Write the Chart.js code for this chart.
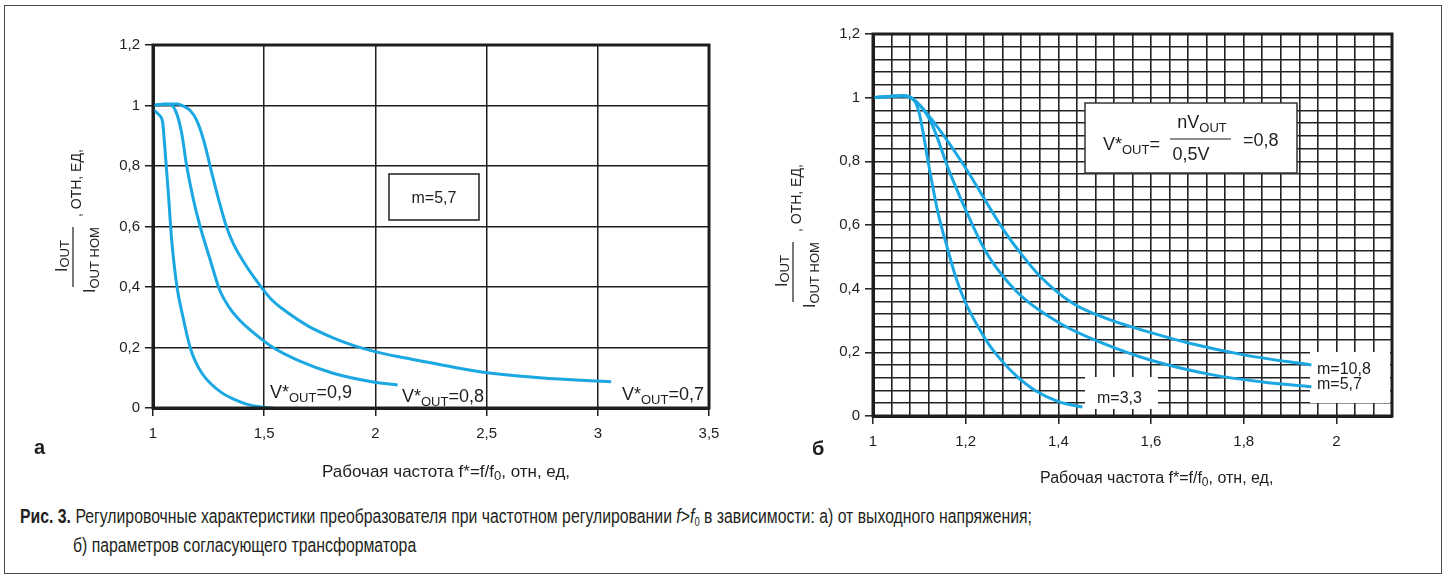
<!DOCTYPE html>
<html>
<head>
<meta charset="utf-8">
<script src="https://cdn.jsdelivr.net/npm/chart.js@4.4.1/dist/chart.umd.min.js"></script>
<style>
  body { margin: 0; background: #fff; width: 1446px; height: 578px; overflow: hidden; position: relative; }
  #frame { position: absolute; left: 4px; top: 5px; width: 1438px; height: 569px; border: 1.5px solid #4a4a4a; box-sizing: border-box; }
  #left { position: absolute; left: 0; top: 0; }
  #right { position: absolute; left: 760px; top: 0; }
  .cap { position: absolute; white-space: nowrap; font-family: "Liberation Sans Narrow", "Liberation Sans", sans-serif; font-size: 20px; color: #231f20; transform-origin: 0 0; }
  .cap sub { font-size: 12px; vertical-align: -3px; }
</style>
</head>
<body>
<div id="frame"></div>
<canvas id="left" width="760" height="490"></canvas>
<canvas id="right" width="686" height="490"></canvas>
<div class="cap" id="cap1" style="left:20px;top:505px"><b>Рис. 3.</b> Регулировочные характеристики преобразователя при частотном регулировании <i>f</i>&gt;<i>f</i><sub>0</sub> в зависимости: а) от выходного напряжения;</div>
<div class="cap" id="cap2" style="left:73px;top:534px">б) параметров согласующего трансформатора</div>

<script>
const BLUE = '#1aa7e2';
const INK = '#1e1e1e';

// рис. а: ток от частоты при разных V*OUT (m=5,7)
const xTicksA = [1, 1.5, 2, 2.5, 3, 3.5];
const yTicksA = [0, 0.2, 0.4, 0.6, 0.8, 1, 1.2];
const fV09 = [1.0, 1.028, 1.043, 1.054, 1.069, 1.084, 1.108, 1.135, 1.167, 1.19, 1.22, 1.26, 1.31, 1.36, 1.42, 1.48, 1.54];
const iV09 = [0.987, 0.968, 0.946, 0.853, 0.71, 0.555, 0.40, 0.30, 0.20, 0.155, 0.115, 0.08, 0.05, 0.03, 0.013, 0.004, 0.0];
const fV08 = [1.0, 1.04, 1.077, 1.106, 1.129, 1.152, 1.182, 1.212, 1.257, 1.30, 1.345, 1.39, 1.45, 1.54, 1.66, 1.81, 1.99, 2.10];
const iV08 = [1.0, 1.004, 1.003, 0.974, 0.908, 0.798, 0.688, 0.60, 0.49, 0.39, 0.33, 0.29, 0.25, 0.20, 0.155, 0.115, 0.086, 0.076];
const fV07 = [1.0, 1.06, 1.11, 1.137, 1.165, 1.196, 1.23, 1.26, 1.295, 1.33, 1.36, 1.41, 1.466, 1.527, 1.60, 1.70, 1.81, 1.90, 1.99, 2.10, 2.26, 2.47, 2.74, 3.0, 3.06];
const iV07 = [1.0, 1.005, 1.005, 0.998, 0.985, 0.952, 0.88, 0.79, 0.69, 0.60, 0.545, 0.48, 0.42, 0.363, 0.318, 0.27, 0.232, 0.207, 0.188, 0.17, 0.148, 0.12, 0.10, 0.089, 0.087];

// рис. б: ток от частоты при разных m (V*OUT=0,8)
const xTicksB = [1, 1.2, 1.4, 1.6, 1.8, 2];
const yTicksB = [0, 0.2, 0.4, 0.6, 0.8, 1, 1.2];
const fM33 = [1.0, 1.03, 1.065, 1.087, 1.10, 1.12, 1.14, 1.16, 1.18, 1.20, 1.225, 1.25, 1.28, 1.31, 1.35, 1.40, 1.452];
const iM33 = [1.0, 1.003, 1.006, 0.995, 0.95, 0.79, 0.64, 0.53, 0.43, 0.355, 0.285, 0.225, 0.17, 0.125, 0.08, 0.045, 0.028];
const fM57 = [1.0, 1.03, 1.065, 1.087, 1.123, 1.167, 1.21, 1.242, 1.28, 1.325, 1.405, 1.49, 1.60, 1.73, 1.84, 1.946];
const iM57 = [1.0, 1.003, 1.006, 0.995, 0.93, 0.76, 0.615, 0.52, 0.44, 0.37, 0.29, 0.232, 0.175, 0.13, 0.107, 0.092];
const fM108 = [1.0, 1.03, 1.065, 1.087, 1.138, 1.195, 1.282, 1.314, 1.36, 1.43, 1.506, 1.60, 1.69, 1.80, 1.946];
const iM108 = [1.0, 1.003, 1.006, 0.995, 0.91, 0.79, 0.584, 0.52, 0.44, 0.355, 0.305, 0.262, 0.226, 0.192, 0.16];

Chart.defaults.font.family = "'Liberation Sans', Arial, sans-serif";
Chart.defaults.color = INK;

const comma = v => String(+v.toFixed(2)).replace('.', ',');
const near = (list, v) => list.some(t => Math.abs(t - v) < 1e-6);

function pts(xs, ys) {
  return xs.map((x, i) => ({ x: x, y: ys[i] }));
}

function line(xs, ys) {
  return {
    data: pts(xs, ys),
    borderColor: BLUE,
    borderWidth: 3,
    pointRadius: 0,
    cubicInterpolationMode: 'monotone',
    fill: false
  };
}

// text with subscripts: parts = [text, size, dy, weight]
function rich(ctx, x, y, parts, align) {
  const fnt = p => (p[3] || 'normal') + ' ' + p[1] + "px 'Liberation Sans', Arial, sans-serif";
  let w = 0;
  parts.forEach(p => { ctx.font = fnt(p); w += ctx.measureText(p[0]).width; });
  let cx = align === 'center' ? x - w / 2 : x;
  parts.forEach(p => {
    ctx.font = fnt(p);
    ctx.fillText(p[0], cx, y + (p[2] || 0));
    cx += ctx.measureText(p[0]).width;
  });
}

function vout(val) {
  return [['V*', 18], ['OUT', 13, 4], ['=' + val, 18]];
}

function yTitle(ctx, lx, by) {
  ctx.save();
  ctx.translate(lx, by);
  ctx.rotate(-Math.PI / 2);
  ctx.fillStyle = INK;
  rich(ctx, 15, -6, [['I', 16], ['OUT', 13, 2]]);
  rich(ctx, -6, 22, [['I', 16], ['OUT НОМ', 13, 4]]);
  ctx.strokeStyle = INK;
  ctx.lineWidth = 1.2;
  ctx.beginPath();
  ctx.moveTo(0, 0);
  ctx.lineTo(60, 0);
  ctx.stroke();
  rich(ctx, 70, 8, [[', ОТН, ЕД,', 14]]);
  ctx.restore();
}

function xTitle(ctx, x, y, size) {
  rich(ctx, x, y, [['Рабочая частота f*=f/f', size], ['0', size - 4, 3], [', отн, ед,', size]]);
}

function frame(ctx, a) {
  ctx.save();
  ctx.strokeStyle = INK;
  ctx.lineWidth = 3;
  ctx.strokeRect(a.left, a.top, a.right - a.left, a.bottom - a.top);
  ctx.restore();
}

function box(ctx, x, y, w, h, stroke) {
  ctx.save();
  ctx.fillStyle = '#fff';
  ctx.fillRect(x, y, w, h);
  if (stroke) {
    ctx.strokeStyle = stroke;
    ctx.lineWidth = 1.5;
    ctx.strokeRect(x, y, w, h);
  }
  ctx.restore();
}

function axes(xMin, xMax, yMin, yMax, xMajor, yMajor, step) {
  const build = (lo, hi, major) => scale => {
    if (!step) {
      scale.ticks = major.map(v => ({ value: v }));
      return;
    }
    const n = Math.round((hi - lo) / step);
    const t = [];
    for (let k = 0; k <= n; k++) t.push({ value: +(lo + k * step).toFixed(4) });
    scale.ticks = t;
  };
  const grid = major => ({
    color: step ? '#222' : INK,
    lineWidth: step ? 1.6 : 1.5,
    tickLength: 8,
    tickWidth: 1.5,
    tickColor: c => (c.tick && near(major, c.tick.value)) ? INK : 'rgba(0,0,0,0)'
  });
  return {
    x: {
      type: 'linear', min: xMin, max: xMax,
      afterBuildTicks: build(xMin, xMax, xMajor),
      afterFit: s => { s.height = 40; },
      grid: grid(xMajor),
      border: { display: true, color: INK, width: 3 },
      ticks: { autoSkip: false, maxRotation: 0, padding: 9, font: { size: 15 },
               callback: v => near(xMajor, v) ? comma(v) : '' }
    },
    y: {
      type: 'linear', min: yMin, max: yMax,
      afterBuildTicks: build(yMin, yMax, yMajor),
      afterFit: s => { s.width = 60; },
      grid: grid(yMajor),
      border: { display: true, color: INK, width: 3 },
      ticks: { autoSkip: false, padding: 5, font: { size: 15 },
               callback: v => near(yMajor, v) ? comma(v) : '' }
    }
  };
}

const baseOpts = {
  responsive: false,
  animation: false,
  events: [],
  plugins: { legend: { display: false }, tooltip: { enabled: false } }
};

const decorA = {
  id: 'decorA',
  beforeDatasetsDraw(chart) {
    box(chart.ctx, 389, 174, 90, 46, INK);
  },
  afterDraw(chart) {
    const ctx = chart.ctx;
    frame(ctx, chart.chartArea);
    ctx.save();
    ctx.fillStyle = INK;
    ctx.textBaseline = 'alphabetic';
    ctx.font = "16px 'Liberation Sans', Arial, sans-serif";
    ctx.textAlign = 'center';
    ctx.fillText('m=5,7', 434, 203);
    ctx.textAlign = 'left';
    rich(ctx, 270, 398, vout('0,9'));
    rich(ctx, 402, 402, vout('0,8'));
    rich(ctx, 622, 400, vout('0,7'));
    xTitle(ctx, 322, 477, 17);
    rich(ctx, 34, 454, [['а', 20, 0, 'bold']]);
    yTitle(ctx, 73, 287);
    ctx.restore();
  }
};

const decorB = {
  id: 'decorB',
  beforeDatasetsDraw(chart) {
    const ctx = chart.ctx;
    box(ctx, 325, 103, 212, 70, '#333');
    box(ctx, 325, 377, 73, 32);
    box(ctx, 550, 352, 80, 51);
  },
  afterDraw(chart) {
    const ctx = chart.ctx;
    frame(ctx, chart.chartArea);
    ctx.save();
    ctx.fillStyle = INK;
    ctx.textBaseline = 'alphabetic';
    rich(ctx, 343, 150, [['V*', 18], ['OUT', 13, 4], ['=', 18]]);
    rich(ctx, 442, 128, [['nV', 18], ['OUT', 13, 4]], 'center');
    rich(ctx, 431, 160, [['0,5V', 18]], 'center');
    ctx.strokeStyle = INK;
    ctx.lineWidth = 1.2;
    ctx.beginPath();
    ctx.moveTo(410, 139);
    ctx.lineTo(471, 139);
    ctx.stroke();
    rich(ctx, 483, 146, [['=0,8', 18]]);
    rich(ctx, 337, 403, [['m=3,3', 16]]);
    rich(ctx, 557, 374, [['m=10,8', 16]]);
    rich(ctx, 557, 389, [['m=5,7', 16]]);
    xTitle(ctx, 280, 483, 16);
    rich(ctx, 52, 455, [['б', 20, 0, 'bold']]);
    yTitle(ctx, 33, 302);
    ctx.restore();
  }
};

new Chart(document.getElementById('left').getContext('2d'), {
  type: 'line',
  data: { datasets: [line(fV09, iV09), line(fV08, iV08), line(fV07, iV07)] },
  options: Object.assign({}, baseOpts, {
    layout: { padding: { left: 93, top: 45, right: 51, bottom: 42 } },
    scales: axes(1, 3.5, 0, 1.2, xTicksA, yTicksA)
  }),
  plugins: [decorA]
});

new Chart(document.getElementById('right').getContext('2d'), {
  type: 'line',
  data: { datasets: [line(fM33, iM33), line(fM57, iM57), line(fM108, iM108)] },
  options: Object.assign({}, baseOpts, {
    layout: { padding: { left: 53, top: 34, right: 54, bottom: 34 } },
    scales: axes(1, 2.12, 0, 1.2, xTicksB, yTicksB, 0.04)
  }),
  plugins: [decorB]
});

// подпись: подгоняем ширину строк под оригинал
const c1 = document.getElementById('cap1');
const c2 = document.getElementById('cap2');
const k = 1012 / c1.getBoundingClientRect().width;
c1.style.transform = 'scaleX(' + k + ')';
c2.style.transform = 'scaleX(' + k + ')';
</script>
</body>
</html>
